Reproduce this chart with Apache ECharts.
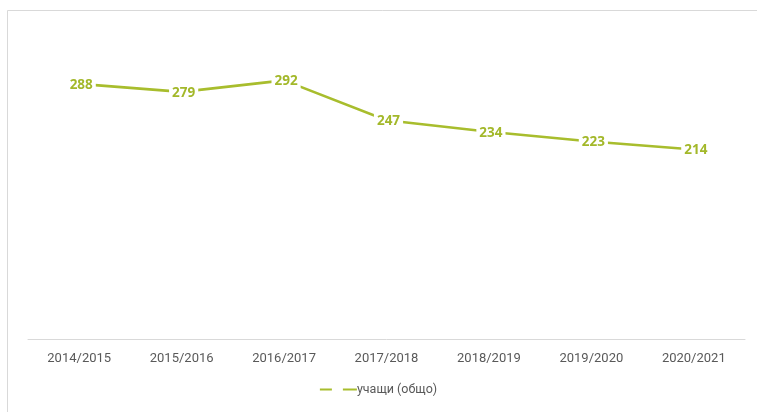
<!DOCTYPE html>
<html>
<head>
<meta charset="utf-8">
<script src="https://cdn.jsdelivr.net/npm/echarts@6/dist/echarts.min.js"></script>
<style>
  html, body { margin: 0; padding: 0; background: #fff; }
  #chart { width: 757px; height: 412px; }
</style>
</head>
<body>
<div id="chart"></div>
<script>
// school years and number of pupils
const years = ["2014/2015", "2015/2016", "2016/2017", "2017/2018", "2018/2019", "2019/2020", "2020/2021"];
const pupils = [288, 279, 292, 247, 234, 223, 214];
const seriesName = "учащи (общо)";

const lineColor = "#a8bd2d";

const chart = echarts.init(document.getElementById("chart"));

chart.setOption({
  backgroundColor: "#fff",
  animation: false,
  graphic: [
    {
      // chart frame, right and bottom edges run off the picture
      type: "rect",
      shape: { x: 7.5, y: 10.5, width: 760, height: 420 },
      style: { fill: "none", stroke: "#d9d9d9", lineWidth: 1 },
    },
  ],
  grid: { left: 28, right: 12, top: 29, bottom: 73 },
  xAxis: {
    type: "category",
    data: years,
    boundaryGap: true,
    axisLine: { lineStyle: { color: "#d9d9d9", width: 1 } },
    axisTick: { show: false },
    axisLabel: {
      color: "#595959",
      fontFamily: "Roboto, sans-serif",
      fontSize: 13,
      margin: 13,
    },
  },
  yAxis: {
    type: "value",
    min: 0,
    max: 350,
    show: false,
    splitLine: { show: false },
  },
  legend: {
    bottom: 11,
    left: "center",
    data: [
      {
        name: seriesName,
        icon: "path://M0,0 h12 v2 h-12z M23,0 h14 v2 h-14z",
      },
    ],
    itemWidth: 37,
    itemHeight: 2,
    itemGap: 0,
    textStyle: {
      color: "#595959",
      fontFamily: "Roboto, sans-serif",
      fontSize: 12.5,
      padding: [0, 0, 0, -5],
    },
  },
  series: [
    {
      name: seriesName,
      type: "line",
      data: pupils,
      symbol: "circle",
      symbolSize: 0,
      lineStyle: { color: lineColor, width: 2.6 },
      itemStyle: { color: lineColor },
      label: {
        show: true,
        position: "inside",
        offset: [2, 1],
        color: "#a3b82a",
        fontFamily: "Open Sans, sans-serif",
        fontWeight: "bold",
        fontSize: 13.5,
        backgroundColor: "#fff",
        padding: [1, 3],
      },
    },
  ],
});
</script>
</body>
</html>
